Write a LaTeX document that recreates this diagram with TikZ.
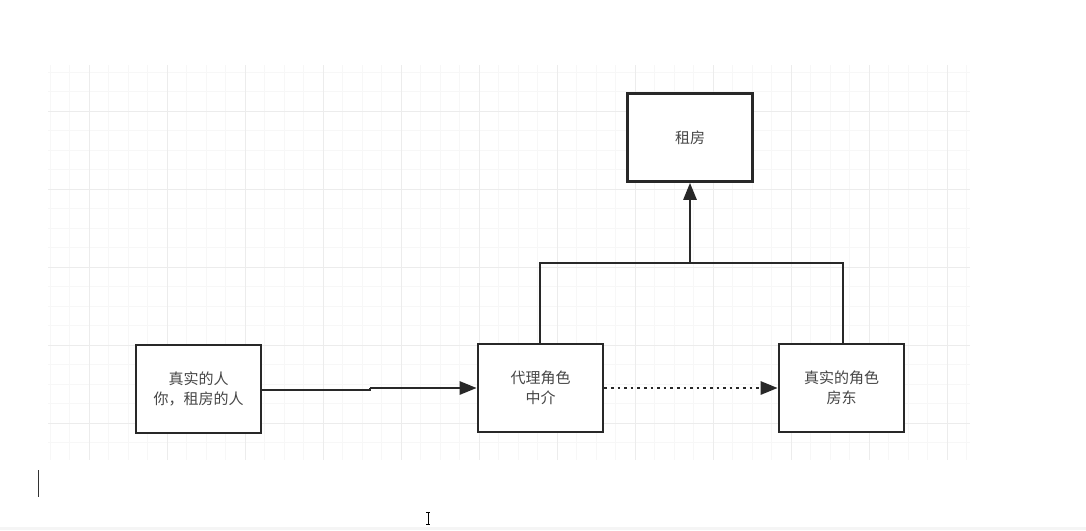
\documentclass[tikz,border=0pt]{standalone}
\usepackage{fontspec}
\newfontfamily\cjk{Noto Sans CJK SC}
\usetikzlibrary{arrows.meta}
\definecolor{gridminor}{RGB}{247,247,247}
\definecolor{gridmajor}{RGB}{236,236,236}
\definecolor{boxline}{RGB}{40,40,40}
\definecolor{txt}{RGB}{70,70,70}
\tikzset{
  box/.style={draw=boxline, line width=2.6pt, fill=white, minimum width=125pt, minimum height=88pt, inner sep=0pt, align=center, font=\cjk\fontsize{15}{20}\selectfont, text=txt},
  conn/.style={draw=boxline, line width=2.6pt},
  arr/.style={conn, -{Triangle[length=17pt,width=13pt]}},
}
\begin{document}
\begin{tikzpicture}[x=1pt,y=-1pt]
\useasboundingbox (0,0) rectangle (1086,530);
\fill[white] (0,0) rectangle (1086,530);
% grid
\begin{scope}
\clip (48,65) rectangle (970,460);
\foreach \x in {50,69.5,...,970} \draw[gridminor, line width=0.8pt] (\x,65) -- (\x,460);
\foreach \y in {72,91.5,...,460} \draw[gridminor, line width=0.8pt] (48,\y) -- (970,\y);
\foreach \x in {89,167,...,970} \draw[gridmajor, line width=1pt] (\x,65) -- (\x,460);
\foreach \y in {111,189,...,460} \draw[gridmajor, line width=1pt] (48,\y) -- (970,\y);
\end{scope}
% bottom strip
\fill[gray!8] (0,527) rectangle (1086,530);
% nodes
\node[box] (rent) at (690,137.5) {租房};
\node[box] (you) at (198.5,389) {真实的人\\你，租房的人};
\node[box] (agent) at (540.5,388) {代理角色\\中介};
\node[box] (owner) at (841.5,388) {真实的角色\\房东};
% connectors
\coordinate (k1) at (370,390);
\coordinate (k2) at (370,388);
\draw[conn] (you.east |- k1) -- (k1) -- (k2);
\draw[arr] (k2) -- (agent.west |- k2);
\draw[conn, line width=2.6pt, dash pattern=on 2.6pt off 4pt, -{Triangle[length=17pt,width=13pt]}] (agent.east |- k2) -- (owner.west |- k2);
\coordinate (jl) at (540,263);
\coordinate (jr) at (843,263);
\coordinate (jm) at (690,263);
\draw[conn] (agent.north -| jl) -- (jl) -- (jr) -- (owner.north -| jr);
\draw[arr] (jm) -- (rent.south);
% text cursors
\coordinate (c1) at (38,470);
\coordinate (c2) at (38,497);
\draw[black!80, line width=0.8pt] (c1) -- (c2);
\coordinate (i1) at (428,512);
\coordinate (i2) at (428,524);
\draw[black, line width=0.8pt] (i1) -- (i2);
\draw[black, line width=0.8pt] (426,512) -- (430,512) (426,524) -- (430,524);
\end{tikzpicture}
\end{document}
